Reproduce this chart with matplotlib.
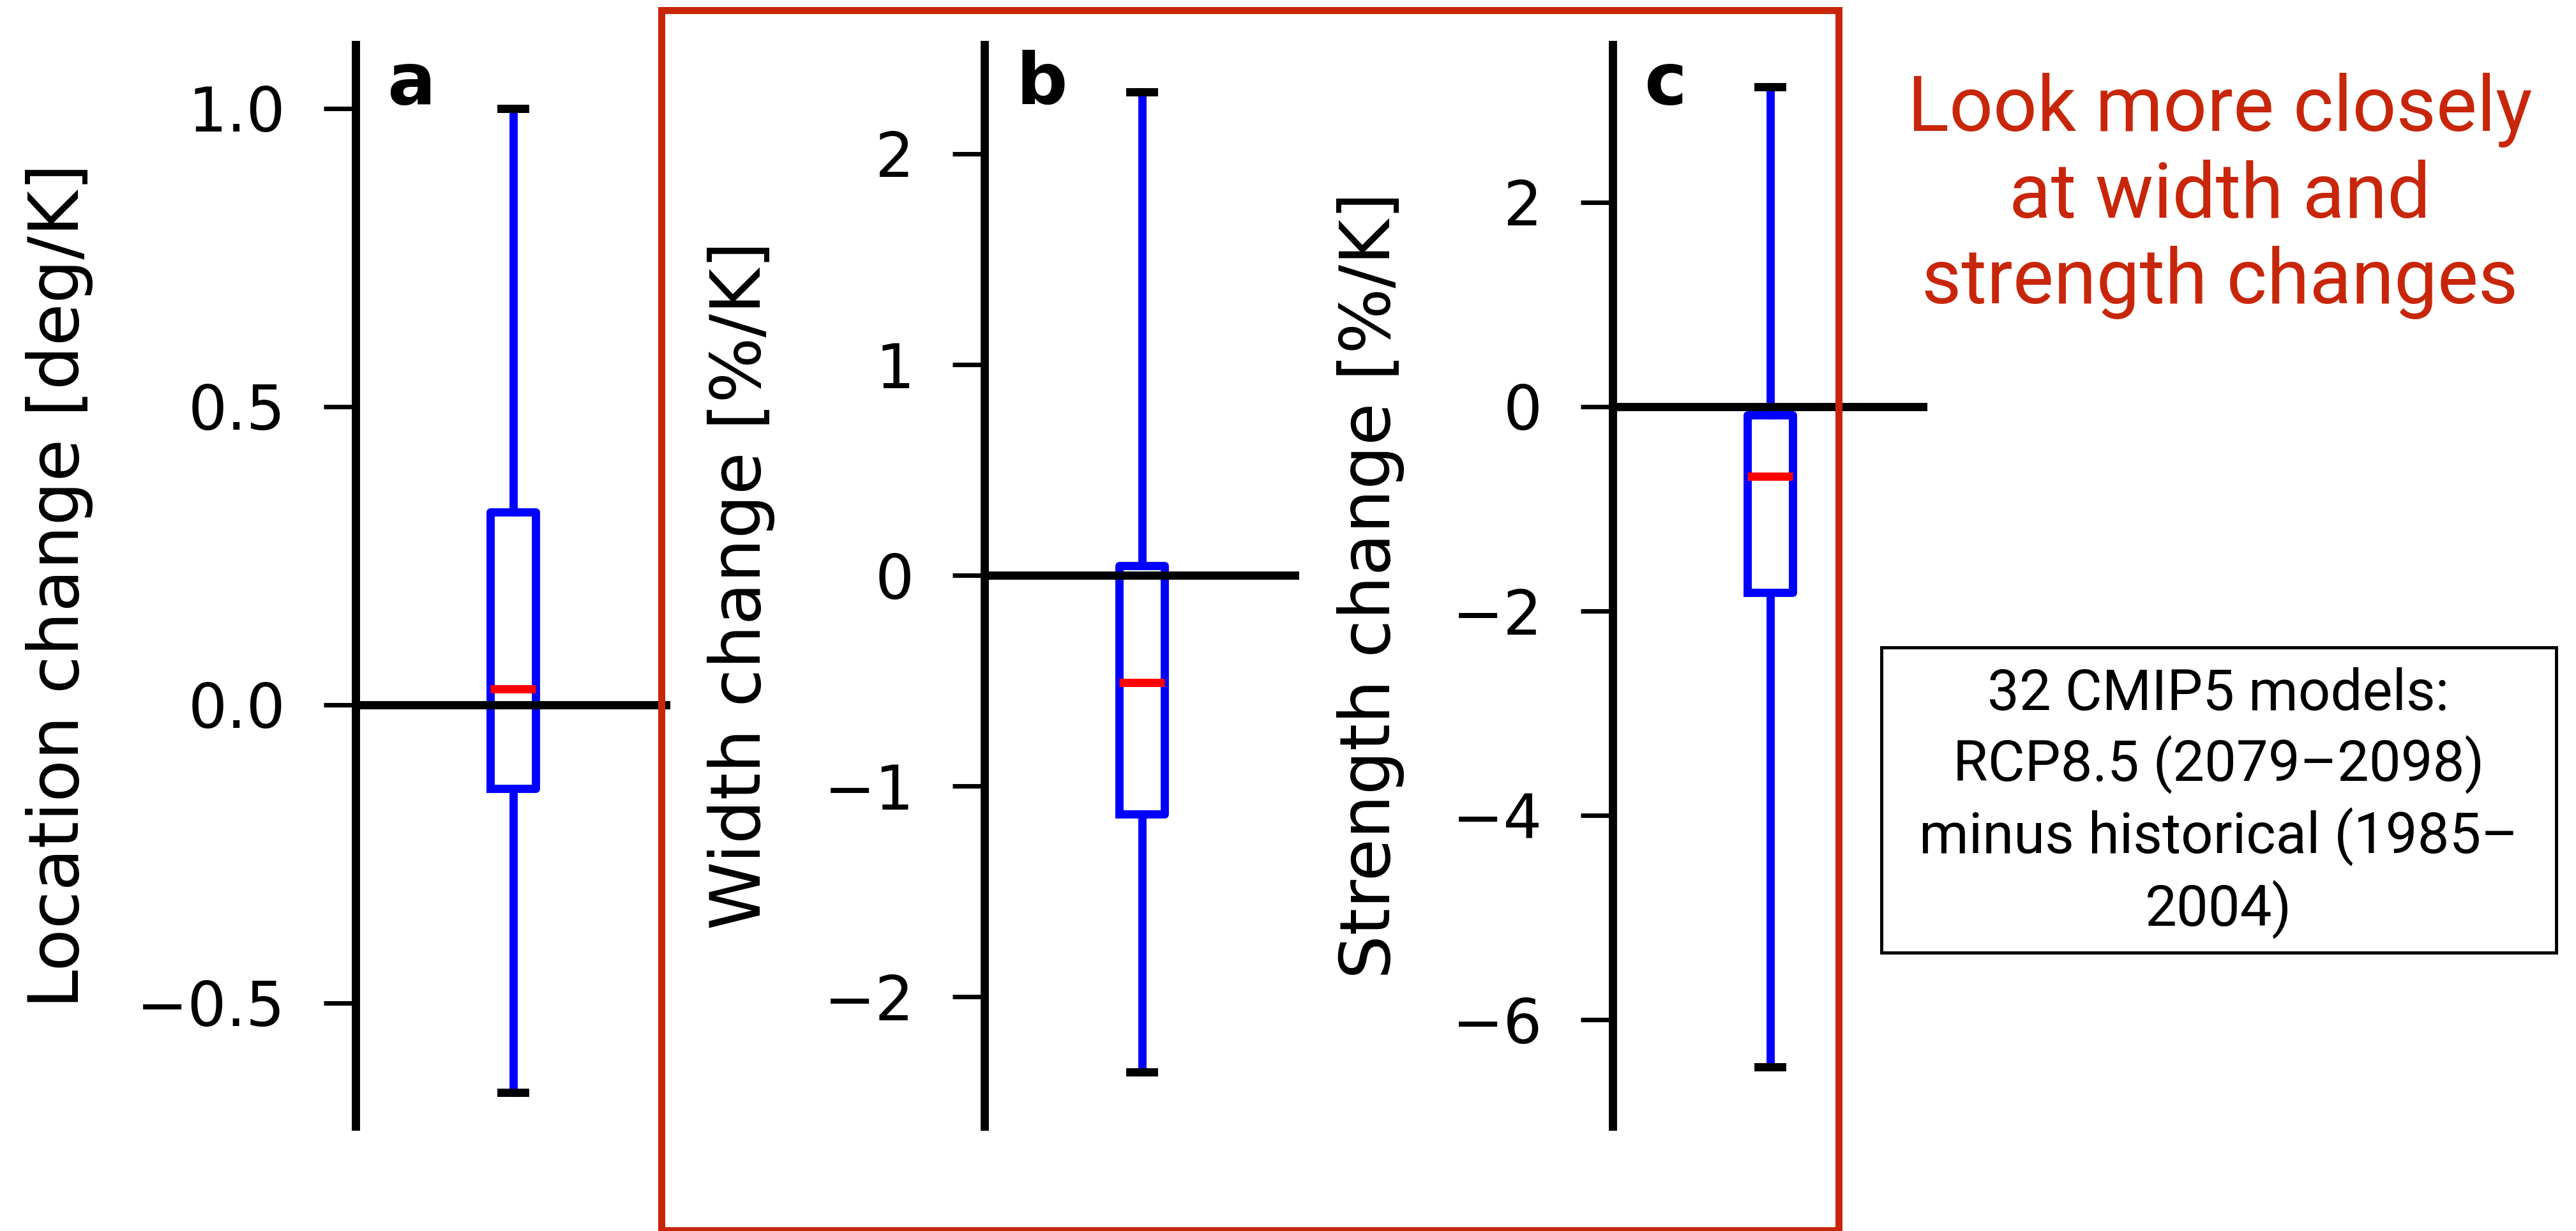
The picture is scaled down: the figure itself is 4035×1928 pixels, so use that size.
import matplotlib
matplotlib.use("Agg")
import matplotlib.pyplot as plt
from matplotlib.patches import Rectangle

# multi-model spread of the change per K of warming, one box per metric
panel_tags = ["a", "b", "c"]
ylabels = ["Location change [deg/K]", "Width change [%/K]", "Strength change [%/K]"]
whislo = [-0.65, -2.355, -6.46]
q1 = [-0.14, -1.132, -1.82]
med = [0.027, -0.51, -0.683]
q3 = [0.323, 0.045, -0.084]
whishi = [1.0, 2.294, 3.13]

yticks = [[-0.5, 0.0, 0.5, 1.0], [-2, -1, 0, 1, 2], [-6, -4, -2, 0, 2]]
ylims = [(-0.707, 1.107), (-2.614, 2.518), (-7.04, 3.54)]

note = "Look more closely\nat width and\nstrength changes"
info = "32 CMIP5 models:\nRCP8.5 (2079\u20132098)\nminus historical (1985\u2013\n2004)"

W, H = 4035, 1928
fig = plt.figure(figsize=(W / 300, H / 300), dpi=300)

ax_left = [557, 1542, 2526]
ax_w, ax_top, ax_bot = 493, 70, 1764
label_x = [-0.834, -0.665, -0.661]
lw = 3.1

for i in range(3):
    ax = fig.add_axes([ax_left[i] / W, (H - ax_bot) / H, ax_w / W, (ax_bot - ax_top) / H])
    stats = [dict(med=med[i], q1=q1[i], q3=q3[i], whislo=whislo[i], whishi=whishi[i])]
    ax.bxp(stats, positions=[1], widths=0.145, capwidths=0.077, showfliers=False,
           boxprops=dict(color="blue", lw=lw),
           whiskerprops=dict(color="blue", lw=lw),
           capprops=dict(color="black", lw=lw),
           medianprops=dict(color="red", lw=lw))
    ax.axhline(0, color="black", lw=lw, zorder=5)
    ax.set_xlim(0.5, 1.5)
    ax.set_ylim(*ylims[i])
    ax.set_yticks(yticks[i])
    ax.set_xticks([])
    for s in ["top", "right", "bottom"]:
        ax.spines[s].set_visible(False)
    ax.spines["left"].set_linewidth(lw)
    ax.tick_params(axis="y", direction="out", length=12, width=1.7, pad=14.4, labelsize=23)
    ax.set_ylabel(ylabels[i], fontsize=26)
    ax.yaxis.set_label_coords(label_x[i], 0.5)
    ax.text(0.1, 0.945, panel_tags[i], transform=ax.transAxes, fontsize=27,
            fontweight="bold", va="baseline")

# red frame round panels b and c
fig.add_artist(Rectangle((1035.5 / W, (H - 1927) / H), (2880 - 1035.5) / W, (1927 - 16) / H,
                         transform=fig.transFigure, fill=False, ec="#c8260a", lw=2.64,
                         joinstyle="miter", zorder=10))

fig.text(3477 / W, 1 - 307 / H, note, ha="center", va="center", color="#c8260a",
         fontsize=29, family=["Roboto", "DejaVu Sans"], linespacing=1.2)

fig.add_artist(Rectangle((2947 / W, (H - 1492) / H), (4004 - 2947) / W, (1492 - 1014) / H,
                         transform=fig.transFigure, fill=False, ec="black", lw=1.2))
fig.text(3475 / W, 1 - 1258 / H, info, ha="center", va="center", color="black",
         fontsize=21.3, family=["Roboto", "DejaVu Sans"], linespacing=1.3)

fig.savefig("out.png", dpi=300)
